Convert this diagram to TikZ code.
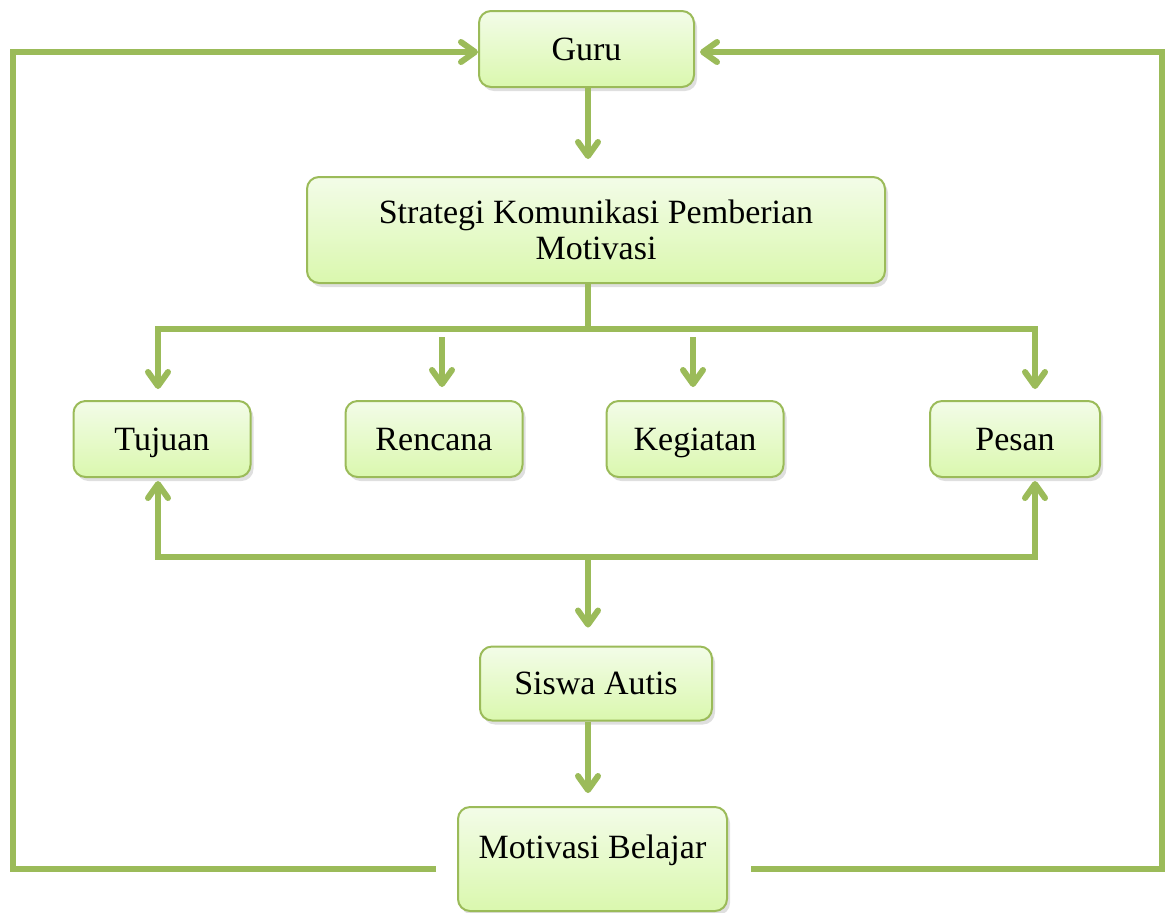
\documentclass[tikz,border=0pt]{standalone}
\usepackage{fontspec}
\setmainfont{Liberation Serif}
\usetikzlibrary{arrows.meta,shadows}
\definecolor{olivegreen}{HTML}{9BBB59}
\definecolor{boxtop}{HTML}{F3FCE8}
\definecolor{boxbottom}{HTML}{DAF8AE}
\tikzset{
  box/.style={draw=olivegreen, line width=1pt, rounded corners=6pt, top color=boxtop, bottom color=boxbottom,
    drop shadow={shadow xshift=1.5pt, shadow yshift=-2pt, opacity=0.25}, align=center,
    font=\fontsize{17}{18}\selectfont, inner sep=0pt},
  smallbox/.style={box, minimum width=88.5pt, minimum height=38pt, text height=13.5pt, text depth=2.5pt},
  link/.style={draw=olivegreen, line width=3pt},
  arr/.style={link, -{Straight Barb[length=7pt, width=10pt, round]}, shorten >=5.5pt},
}
\begin{document}
\begin{tikzpicture}[x=0.5pt, y=-0.5pt]
  \useasboundingbox (0,0) rectangle (1165,912);
  % boxes
  \node[smallbox, minimum width=107.5pt] (guru) at (586.5,49) {Guru};
  \node[box, minimum width=289pt, minimum height=53pt, text depth=-4pt] (strategi) at (596,230) {Strategi Komunikasi Pemberian\\Motivasi};
  \node[smallbox] (tujuan) at (162,439) {Tujuan};
  \node[smallbox] (rencana) at (434,439) {Rencana};
  \node[smallbox] (kegiatan) at (695,439) {Kegiatan};
  \node[smallbox, minimum width=85pt] (pesan) at (1015,439) {Pesan};
  \node[smallbox, minimum width=116pt, minimum height=37pt] (siswa) at (596,683.5) {Siswa Autis};
  \node[box, minimum width=134.5pt, minimum height=52pt, text height=12pt, text depth=13pt] (motivasi) at (592.5,859) {Motivasi Belajar};
  % bus lines
  \coordinate (bus1) at (588,329);
  \coordinate (bus2) at (588,557);
  \coordinate (loopL) at (13,52);
  \coordinate (loopR) at (1162,52);
  \coordinate (ren) at ([xshift=4pt]rencana.north);
  \coordinate (keg) at ([xshift=-1pt]kegiatan.north);
  \draw[arr, shorten >=8.5pt] (guru.south -| bus1) -- (bus1 |- strategi.north);
  \draw[link] (strategi.south -| bus1) -- (bus1);
  \draw[arr] (bus1) -| ([xshift=-2pt]tujuan.north);
  \draw[arr] (bus1) -| ([xshift=10pt]pesan.north);
  \draw[arr, shorten <=4pt, shorten >=6.5pt] (ren |- bus1) -- (ren);
  \draw[arr, shorten <=4pt, shorten >=6.5pt] (keg |- bus1) -- (keg);
  \draw[arr, shorten >=1.5pt] (bus2) -| ([xshift=-2pt]tujuan.south);
  \draw[arr, shorten >=1.5pt] (bus2) -| ([xshift=10pt]pesan.south);
  \draw[arr, shorten >=9pt] (bus2) -- (bus2 |- siswa.north);
  \draw[arr, shorten >=6.5pt] (siswa.south -| bus2) -- (bus2 |- motivasi.north);
  % feedback
  \draw[arr, shorten >=0pt] ([shift={(-21,10)}]motivasi.west) -| (loopL) -- ([yshift=-1.5pt]guru.west);
  \draw[arr, shorten >=2.5pt] ([shift={(23,10)}]motivasi.east) -| (loopR) -- ([yshift=-1.5pt]guru.east);
\end{tikzpicture}
\end{document}
